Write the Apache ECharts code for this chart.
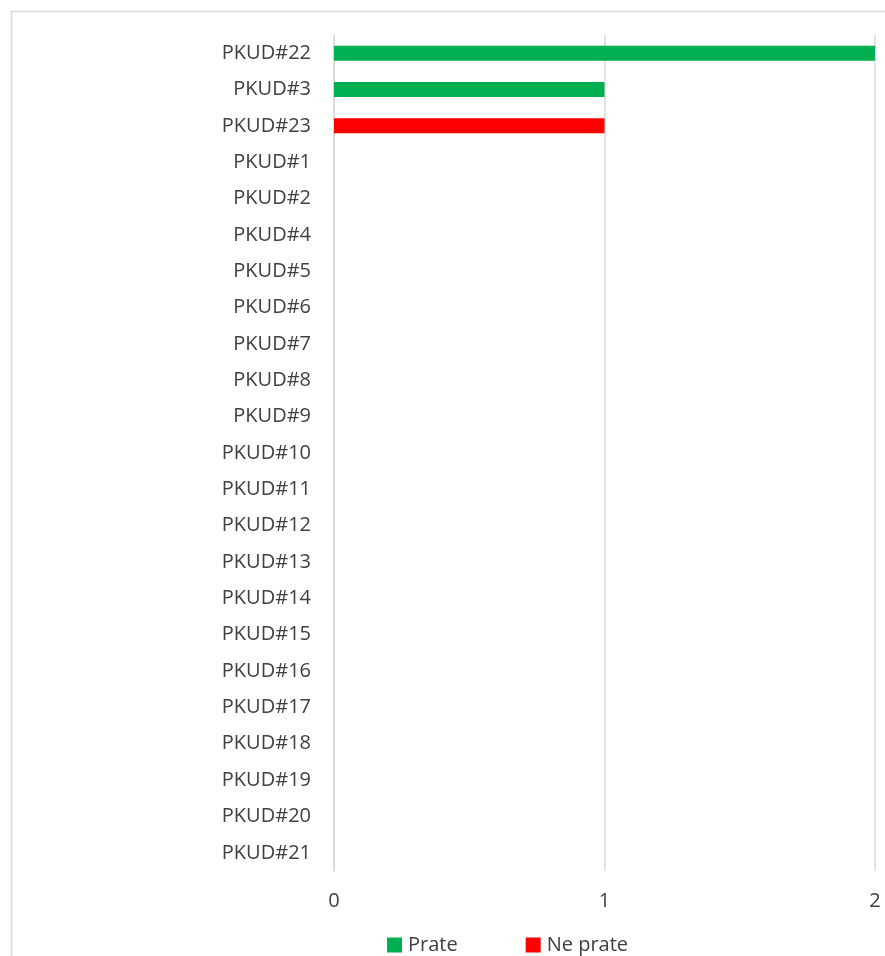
<!DOCTYPE html>
<html>
<head>
<meta charset="utf-8">
<script src="https://cdn.jsdelivr.net/npm/echarts@6/dist/echarts.min.js"></script>
<style>
  html, body { margin: 0; padding: 0; background: #fff; }
  #chart { width: 885px; height: 956px; }
</style>
</head>
<body>
<div id="chart"></div>
<script>
// Categories, listed top to bottom
const categories = [
  'PKUD#22', 'PKUD#3', 'PKUD#23', 'PKUD#1', 'PKUD#2', 'PKUD#4', 'PKUD#5',
  'PKUD#6', 'PKUD#7', 'PKUD#8', 'PKUD#9', 'PKUD#10', 'PKUD#11', 'PKUD#12',
  'PKUD#13', 'PKUD#14', 'PKUD#15', 'PKUD#16', 'PKUD#17', 'PKUD#18',
  'PKUD#19', 'PKUD#20', 'PKUD#21'
];
const prate =   [2, 1, 0, 0, 0, 0, 0, 0, 0, 0, 0, 0, 0, 0, 0, 0, 0, 0, 0, 0, 0, 0, 0];
const nePrate = [0, 0, 1, 0, 0, 0, 0, 0, 0, 0, 0, 0, 0, 0, 0, 0, 0, 0, 0, 0, 0, 0, 0];
const xTicks = [0, 1, 2];

const FONT = '"Open Sans", sans-serif';
const TEXT = '#404040';
const LINE = '#d9d9d9';

const chart = echarts.init(document.getElementById('chart'), null, { renderer: 'canvas' });
chart.setOption({
  animation: false,
  backgroundColor: '#fff',
  graphic: [{
    type: 'rect',
    shape: { x: 11.5, y: 11.5, width: 900, height: 960 },
    style: { fill: 'none', stroke: LINE, lineWidth: 1.5 },
    silent: true
  }],
  grid: { left: 334, right: 10, top: 35, bottom: 85, containLabel: false },
  legend: {
    data: ['Prate', 'Ne prate'],
    left: 387,
    top: 935,
    padding: 0,
    itemWidth: 15,
    itemHeight: 15,
    itemGap: 68,
    icon: 'rect',
    textStyle: { fontFamily: FONT, fontSize: 20, color: TEXT, width: 57, padding: [0, 0, 0, 1] }
  },
  xAxis: {
    type: 'value',
    min: xTicks[0],
    max: xTicks[xTicks.length - 1],
    interval: 1,
    axisLine: { show: false },
    axisTick: { show: false },
    splitLine: { show: true, lineStyle: { color: LINE, width: 1.5 } },
    axisLabel: { fontFamily: FONT, fontSize: 20, color: TEXT, margin: 20 }
  },
  yAxis: {
    type: 'category',
    data: categories,
    inverse: true,
    axisLine: { show: true, lineStyle: { color: LINE, width: 1.5 } },
    axisTick: { show: false },
    axisLabel: { fontFamily: FONT, fontSize: 20, color: TEXT, margin: 23 }
  },
  series: [
    {
      name: 'Prate',
      type: 'bar',
      stack: 'total',
      data: prate,
      barWidth: 15,
      itemStyle: { color: '#00b050' }
    },
    {
      name: 'Ne prate',
      type: 'bar',
      stack: 'total',
      data: nePrate,
      barWidth: 15,
      itemStyle: { color: '#ff0000' }
    }
  ]
});
</script>
</body>
</html>
